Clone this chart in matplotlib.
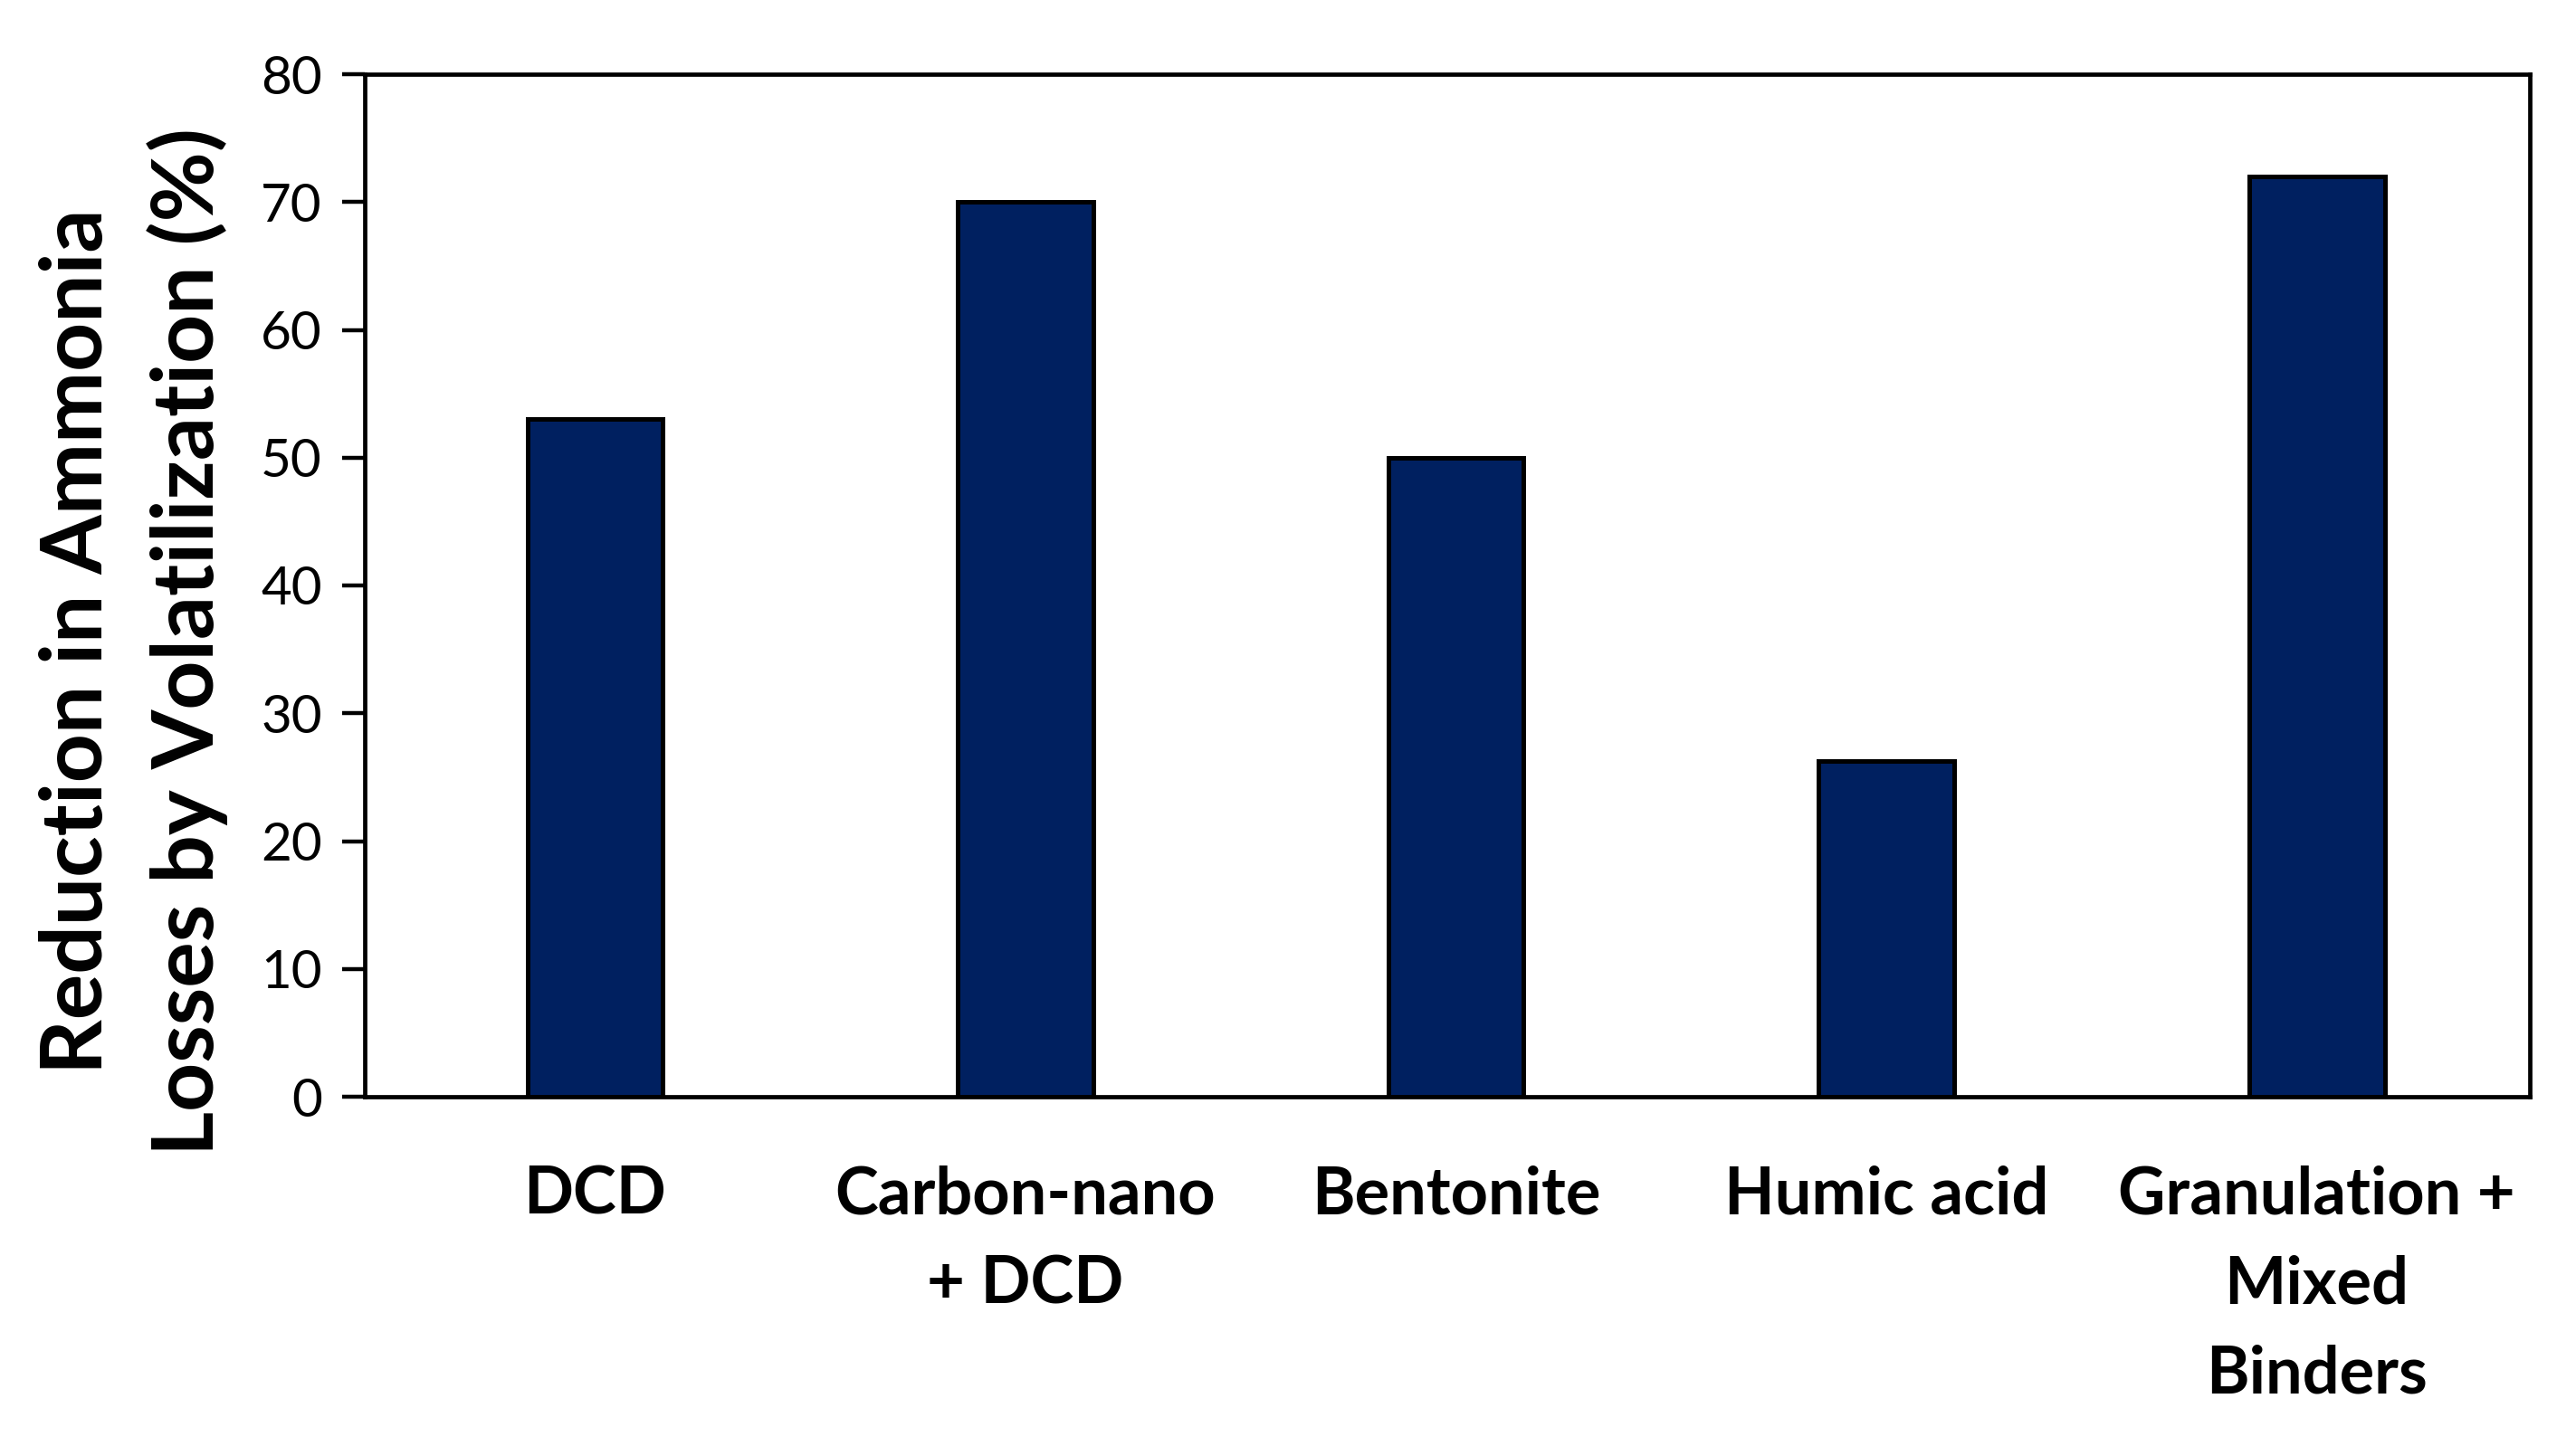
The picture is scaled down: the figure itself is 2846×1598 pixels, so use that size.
import matplotlib.pyplot as plt

# Data
categories = ['DCD', 'Carbon-nano\n+ DCD', 'Bentonite', 'Humic acid',
              'Granulation +\nMixed\nBinders']
reduction = [53.0, 70.0, 50.0, 26.3, 72.0]
yticks = [0, 10, 20, 30, 40, 50, 60, 70, 80]

plt.rcParams['font.family'] = ['Lato', 'DejaVu Sans']

fig = plt.figure(figsize=(14.23, 7.99), dpi=200)
ax = fig.add_axes([403/2846, 1 - 1212/1598, (2795-403)/2846, (1212-82)/1598])

x = range(len(categories))
ax.bar(x, reduction, width=0.315, color='#002060', edgecolor='black', linewidth=1.8, zorder=2)

ax.set_xlim(-0.535, 4.495)
ax.set_ylim(0, 80)
ax.set_yticks(yticks)
ax.set_xticks(list(x))
ax.set_xticklabels(categories, fontsize=26, fontweight='bold', linespacing=1.6)
ax.tick_params(axis='x', length=0, pad=27)
ax.tick_params(axis='y', labelsize=21, length=9, width=1.6, direction='out', pad=8)

for s in ax.spines.values():
    s.set_linewidth(1.7)

ax.set_ylabel('Reduction in Ammonia\nLosses by Volatilization (%)', fontsize=34,
              fontweight='bold', linespacing=1.45)
ax.yaxis.set_label_coords(-0.063, 0.445)

fig.savefig('out.png', dpi=200)
